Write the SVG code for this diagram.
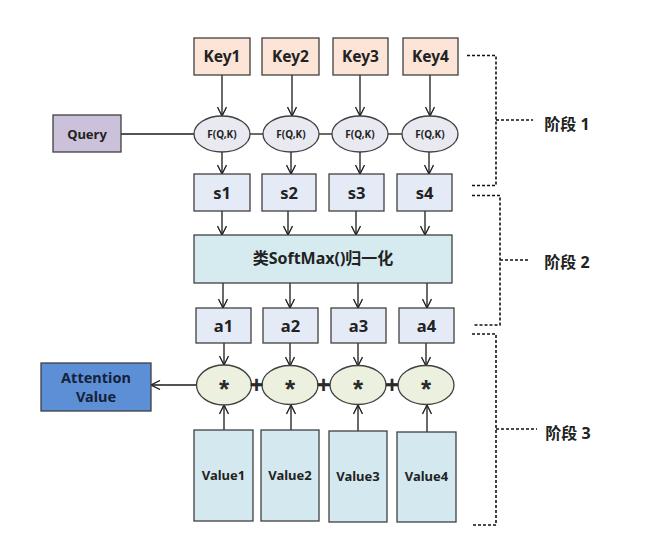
<svg xmlns="http://www.w3.org/2000/svg" width="662" height="555" viewBox="0 0 662 555">
<defs>
<marker id="arr" viewBox="0 0 10 10" refX="10" refY="5" markerWidth="10" markerHeight="10" markerUnits="userSpaceOnUse" orient="auto">
<path d="M1,0.5 L10,5 L1,9.5" fill="none" stroke="#1a1a1a" stroke-width="1.3"/>
</marker>
</defs>
<style>
.b{stroke:#404040;stroke-width:1.3}
.key{fill:#fce4d6}
.q{fill:#ccc1da}
.f{fill:#e9e9f1}
.s{fill:#e4ebf6}
.sm{fill:#d6ebef}
.m{fill:#ebf1de}
.v{fill:#d4e9ef}
.av{fill:#5d8fd6}
.t{font-family:"Noto Sans","Noto Sans CJK SC",sans-serif;font-weight:bold;fill:#222;text-anchor:middle;dominant-baseline:central}
.st{font-family:"Liberation Sans",sans-serif;font-weight:bold;fill:#2a2a2a;text-anchor:middle;dominant-baseline:central}
.ln{stroke:#1a1a1a;stroke-width:1.3;fill:none}
.a{stroke:#1a1a1a;stroke-width:1.3;fill:none;marker-end:url(#arr)}
.d{stroke:#111;stroke-width:1.6;fill:none;stroke-dasharray:3 2}
.p{stroke:#1a1a1a;stroke-width:2.6;fill:none}
</style>
<rect width="662" height="555" fill="#fff"/>
<g id="connectors">
<line class="ln" x1="121" y1="134" x2="194" y2="134"/>
<line class="ln" x1="250" y1="134" x2="263" y2="134"/>
<line class="ln" x1="319" y1="134" x2="332" y2="134"/>
<line class="ln" x1="388" y1="134" x2="402" y2="134"/>
<line class="a" x1="222" y1="75" x2="222" y2="116"/>
<line class="a" x1="292" y1="75" x2="292" y2="116"/>
<line class="a" x1="360" y1="75" x2="360" y2="116"/>
<line class="a" x1="430" y1="75" x2="430" y2="116"/>
<line class="a" x1="222" y1="152" x2="222" y2="174"/>
<line class="a" x1="291" y1="152" x2="291" y2="174"/>
<line class="a" x1="360" y1="152" x2="360" y2="174"/>
<line class="a" x1="429" y1="152" x2="429" y2="174"/>
<line class="a" x1="222" y1="211" x2="222" y2="235"/>
<line class="a" x1="288" y1="211" x2="288" y2="235"/>
<line class="a" x1="356" y1="211" x2="356" y2="235"/>
<line class="a" x1="425" y1="211" x2="425" y2="235"/>
<line class="a" x1="223" y1="283" x2="223" y2="308"/>
<line class="a" x1="290" y1="283" x2="290" y2="308"/>
<line class="a" x1="358" y1="283" x2="358" y2="308"/>
<line class="a" x1="427" y1="283" x2="427" y2="308"/>
<line class="a" x1="224" y1="343" x2="224" y2="365"/>
<line class="a" x1="290" y1="343" x2="290" y2="366"/>
<line class="a" x1="358" y1="343" x2="358" y2="366"/>
<line class="a" x1="426" y1="343" x2="426" y2="366"/>
<line class="a" x1="224" y1="430" x2="224" y2="405"/>
<line class="a" x1="291" y1="430" x2="291" y2="405"/>
<line class="a" x1="358" y1="431" x2="358" y2="405"/>
<line class="a" x1="427" y1="432" x2="427" y2="405"/>
<line class="a" x1="197" y1="385" x2="151" y2="385"/>
<line class="p" x1="251" y1="385" x2="262" y2="385"/>
<line class="p" x1="318" y1="385" x2="330" y2="385"/>
<line class="p" x1="386" y1="385" x2="398" y2="385"/>
</g>
<g id="key1"><rect class="b key" x="194" y="38" width="56" height="37"/><text class="t" x="222" y="56" font-size="15.5">Key1</text></g>
<g id="key2"><rect class="b key" x="262" y="38" width="57" height="37"/><text class="t" x="290.5" y="56" font-size="15.5">Key2</text></g>
<g id="key3"><rect class="b key" x="333" y="38" width="55" height="37"/><text class="t" x="360.5" y="56" font-size="15.5">Key3</text></g>
<g id="key4"><rect class="b key" x="403" y="38" width="55" height="37"/><text class="t" x="430.5" y="56" font-size="15.5">Key4</text></g>
<g id="query"><rect class="b q" x="53" y="115" width="68" height="37"/><text class="t" x="87" y="133.5" font-size="13">Query</text></g>
<g id="f1"><ellipse class="b f" cx="222" cy="134" rx="28" ry="18"/><text class="t" x="222" y="134" font-size="10">F(Q,K)</text></g>
<g id="f2"><ellipse class="b f" cx="291" cy="134" rx="28" ry="18"/><text class="t" x="291" y="134" font-size="10">F(Q,K)</text></g>
<g id="f3"><ellipse class="b f" cx="360" cy="134" rx="28" ry="18"/><text class="t" x="360" y="134" font-size="10">F(Q,K)</text></g>
<g id="f4"><ellipse class="b f" cx="430" cy="134" rx="28" ry="18"/><text class="t" x="430" y="134" font-size="10">F(Q,K)</text></g>
<g id="s1"><rect class="b s" x="194" y="174" width="56" height="37"/><text class="t" x="222" y="192" font-size="16.5">s1</text></g>
<g id="s2"><rect class="b s" x="262" y="174" width="54" height="37"/><text class="t" x="289" y="192" font-size="16.5">s2</text></g>
<g id="s3"><rect class="b s" x="329" y="174" width="55" height="37"/><text class="t" x="356.5" y="192" font-size="16.5">s3</text></g>
<g id="s4"><rect class="b s" x="397" y="174" width="55" height="37"/><text class="t" x="424.5" y="192" font-size="16.5">s4</text></g>
<g id="softmax"><rect class="b sm" x="194" y="235" width="258" height="48"/><text class="t" x="323" y="258" font-size="16">类SoftMax()归一化</text></g>
<g id="a1"><rect class="b s" x="196" y="308" width="55" height="35"/><text class="t" x="223.5" y="325" font-size="16.5">a1</text></g>
<g id="a2"><rect class="b s" x="263" y="308" width="55" height="35"/><text class="t" x="290.5" y="325" font-size="16.5">a2</text></g>
<g id="a3"><rect class="b s" x="331" y="308" width="55" height="35"/><text class="t" x="358.5" y="325" font-size="16.5">a3</text></g>
<g id="a4"><rect class="b s" x="399" y="308" width="55" height="35"/><text class="t" x="426.5" y="325" font-size="16.5">a4</text></g>
<g id="m1"><ellipse class="b m" cx="224" cy="385" rx="27.5" ry="20"/><text class="st" x="224" y="389" font-size="26">*</text></g>
<g id="m2"><ellipse class="b m" cx="290" cy="385" rx="28" ry="19.5"/><text class="st" x="290" y="389" font-size="26">*</text></g>
<g id="m3"><ellipse class="b m" cx="358" cy="385" rx="28" ry="19.5"/><text class="st" x="358" y="389" font-size="26">*</text></g>
<g id="m4"><ellipse class="b m" cx="426" cy="385" rx="28" ry="19.5"/><text class="st" x="426" y="389" font-size="26">*</text></g>
<g id="plus"><text class="st" x="256.5" y="384" font-size="24">+</text><text class="st" x="323.5" y="384" font-size="24">+</text><text class="st" x="392" y="384" font-size="24">+</text></g>
<g id="attention"><rect class="b av" x="41" y="363" width="110" height="48"/><text class="t" x="96" y="377" font-size="14.5" style="fill:#16213a">Attention</text><text class="t" x="96" y="396" font-size="14.5" style="fill:#16213a">Value</text></g>
<g id="v1"><rect class="b v" x="194" y="430" width="59" height="91"/><text class="t" x="223.5" y="475" font-size="13">Value1</text></g>
<g id="v2"><rect class="b v" x="261" y="430" width="58" height="91"/><text class="t" x="290" y="475" font-size="13">Value2</text></g>
<g id="v3"><rect class="b v" x="329" y="431" width="58" height="91"/><text class="t" x="358" y="476" font-size="13">Value3</text></g>
<g id="v4"><rect class="b v" x="397" y="432" width="59" height="90"/><text class="t" x="426.5" y="476" font-size="13">Value4</text></g>
<g id="stage1"><path class="d" d="M467,55.5 H496 V185.5 H471 M496,120 H533"/><text class="t" x="567" y="124" font-size="16">阶段 1</text></g>
<g id="stage2"><path class="d" d="M472,195.5 H500 V325 H473 M500,260 H530"/><text class="t" x="567" y="262" font-size="16">阶段 2</text></g>
<g id="stage3"><path class="d" d="M472,334 H496 V525 H472 M496,429 H537"/><text class="t" x="568" y="433" font-size="16">阶段 3</text></g>
</svg>
